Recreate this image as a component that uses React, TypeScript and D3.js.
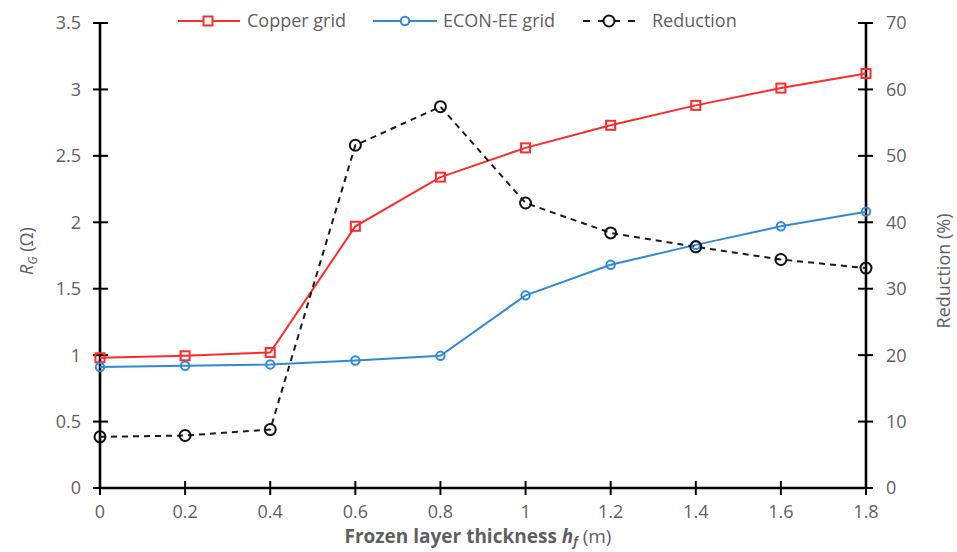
import React from "react";
import * as d3 from "d3";

const thickness = [0, 0.2, 0.4, 0.6, 0.8, 1.0, 1.2, 1.4, 1.6, 1.8];
const copperGrid = [0.98, 0.995, 1.02, 1.97, 2.34, 2.56, 2.73, 2.88, 3.01, 3.12];
const econGrid = [0.91, 0.92, 0.93, 0.96, 0.995, 1.45, 1.68, 1.83, 1.97, 2.08];
const reduction = [7.7, 7.9, 8.8, 51.6, 57.4, 42.9, 38.4, 36.3, 34.4, 33.1];
const xTicks = [0, 0.2, 0.4, 0.6, 0.8, 1, 1.2, 1.4, 1.6, 1.8];
const leftTicks = [0, 0.5, 1, 1.5, 2, 2.5, 3, 3.5];
const rightTicks = [0, 10, 20, 30, 40, 50, 60, 70];

const W = 957;
const H = 552;
const x0 = 100, x1 = 866, yTop = 23, yBot = 488;
const RED = "#ff2a2a";
const BLUE = "#2f8ad8";
const GRAY = "#5f5f5f";
const FONT = "'Open Sans', 'Liberation Sans', sans-serif";

export default function App() {
  const x = d3.scaleLinear().domain([0, 1.8]).range([x0, x1]);
  const yL = d3.scaleLinear().domain([0, 3.5]).range([yBot, yTop]);
  const yR = d3.scaleLinear().domain([0, 70]).range([yBot, yTop]);

  const lineL = d3.line<number>().x((_, i) => x(thickness[i])).y((d) => yL(d));
  const lineR = d3.line<number>().x((_, i) => x(thickness[i])).y((d) => yR(d));

  const fmt = (v: number) => String(v);
  const ly = 21;

  return (
    <svg width={W} height={H} style={{ position: "absolute", left: 0, top: 0, background: "#fff" }} fontFamily={FONT}>
      <rect width={W} height={H} fill="#fff" />

      {/* axes */}
      <line x1={x0} x2={x0} y1={yTop} y2={yBot} stroke="#000" strokeWidth={2.6} />
      <line x1={x1} x2={x1} y1={yTop} y2={yBot} stroke="#000" strokeWidth={2.6} />
      <line x1={x0} x2={x1} y1={yBot} y2={yBot} stroke="#000" strokeWidth={2.6} />
      {leftTicks.map((t) => (
        <g key={"l" + t}>
          <line x1={x0 - 7} x2={x0 + 8} y1={yL(t)} y2={yL(t)} stroke="#000" strokeWidth={2} />
          <text x={x0 - 19} y={yL(t)} dy="0.36em" textAnchor="end" fontSize={18} fill={GRAY}>{fmt(t)}</text>
        </g>
      ))}
      {rightTicks.map((t) => (
        <g key={"r" + t}>
          <line x1={x1 - 8} x2={x1 + 7} y1={yR(t)} y2={yR(t)} stroke="#000" strokeWidth={2} />
          <text x={x1 + 20} y={yR(t)} dy="0.36em" textAnchor="start" fontSize={18} fill={GRAY}>{fmt(t)}</text>
        </g>
      ))}
      {xTicks.map((t) => (
        <g key={"x" + t}>
          <line x1={x(t)} x2={x(t)} y1={yBot - 7} y2={yBot + 7} stroke="#000" strokeWidth={2} />
          <text x={x(t)} y={yBot + 30} textAnchor="middle" fontSize={18} fill={GRAY}>{fmt(t)}</text>
        </g>
      ))}

      {/* series lines */}
      <path d={lineL(copperGrid) || ""} fill="none" stroke={RED} strokeWidth={2} />
      <path d={lineL(econGrid) || ""} fill="none" stroke={BLUE} strokeWidth={2} />
      <path d={lineR(reduction) || ""} fill="none" stroke="#1a1a1a" strokeWidth={2} strokeDasharray="6,5" />

      {/* markers */}
      {copperGrid.map((v, i) => (
        <rect key={"c" + i} x={x(thickness[i]) - 4.5} y={yL(v) - 4.5} width={9} height={9} fill="none" stroke={RED} strokeWidth={2} />
      ))}
      {econGrid.map((v, i) => (
        <circle key={"e" + i} cx={x(thickness[i])} cy={yL(v)} r={4.2} fill="none" stroke={BLUE} strokeWidth={2} />
      ))}
      {reduction.map((v, i) => (
        <circle key={"d" + i} cx={x(thickness[i])} cy={yR(v)} r={5.5} fill="none" stroke="#111" strokeWidth={2} />
      ))}

      {/* axis titles */}
      <text x={478} y={543} textAnchor="middle" fontSize={19} fontWeight="bold" fill={GRAY}>
        Frozen layer thickness <tspan fontStyle="italic">h</tspan>
        <tspan fontStyle="italic" fontSize={12} dy={3}>f</tspan>
        <tspan dy={-3} fontWeight="normal"> (m)</tspan>
      </text>
      <text transform={`translate(33,251) rotate(-90)`} textAnchor="middle" fontSize={18} fill={GRAY}>
        <tspan fontStyle="italic">R</tspan>
        <tspan fontStyle="italic" fontSize={12} dy={4}>G</tspan>
        <tspan dy={-4}> (Ω)</tspan>
      </text>
      <text transform={`translate(950,271) rotate(-90)`} textAnchor="middle" fontSize={18} fill={GRAY}>
        Reduction (%)
      </text>

      {/* legend */}
      <g>
        <line x1={178} x2={240} y1={ly} y2={ly} stroke={RED} strokeWidth={2} />
        <rect x={203.5} y={ly - 4.5} width={9} height={9} fill="#fff" stroke={RED} strokeWidth={2} />
        <text x={247} y={ly} dy="0.36em" fontSize={18} fill={GRAY}>Copper grid</text>

        <line x1={373} x2={437} y1={ly} y2={ly} stroke={BLUE} strokeWidth={2} />
        <circle cx={405} cy={ly} r={4.2} fill="#fff" stroke={BLUE} strokeWidth={2} />
        <text x={443} y={ly} dy="0.36em" fontSize={18} fill={GRAY}>ECON-EE grid</text>

        <line x1={583} x2={640} y1={ly} y2={ly} stroke="#1a1a1a" strokeWidth={2} strokeDasharray="7,8" />
        <circle cx={609} cy={ly} r={5.5} fill="#fff" stroke="#111" strokeWidth={2} />
        <text x={652} y={ly} dy="0.36em" fontSize={18} fill={GRAY}>Reduction</text>
      </g>
    </svg>
  );
}
